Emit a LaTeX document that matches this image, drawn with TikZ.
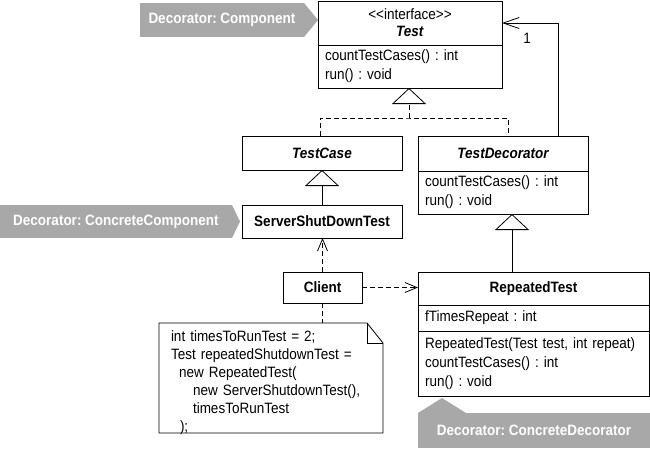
\documentclass[tikz,border=0pt]{standalone}
\usepackage{fontspec}
\setmainfont{Liberation Sans}[FakeStretch=0.9]
\usetikzlibrary{positioning, arrows.meta}
\definecolor{tagfill}{RGB}{168,168,168}

\begin{document}
\frenchspacing
\begin{tikzpicture}[x=1pt, y=1pt, line width=0.8pt,
  every node/.style={font=\fontsize{15}{19}\selectfont, inner sep=0pt, outer sep=0pt},
  box/.style={draw, rectangle, align=center},
  ops/.style={draw, rectangle, align=left, inner xsep=7pt},
  tag/.style={fill=tagfill, text=white, font=\fontsize{15}{16}\selectfont\bfseries},
  realize/.style={dash pattern=on 5pt off 3pt},
  inherit/.style={-{Triangle[open, length=16pt, width=34pt]}},
  depend/.style={dash pattern=on 5pt off 3pt, -{Straight Barb[length=12pt, width=10pt]}},
  assoc/.style={-{Straight Barb[length=16pt, width=11pt]}}]

  \useasboundingbox (0,0) rectangle (650,-450);

  % Interface Test (top)
  \node[box, minimum width=184pt, minimum height=44pt] (test) at (410,-23)
    {<\kern0pt<interface>\kern0pt>\\[-2pt]\textbf{\textit{Test}}};
  \node[ops, text width=170pt, minimum height=43pt, below=0pt of test] (testops)
    {countTestCases() : int\\run() : void};

  % Abstract classes under Test
  \node[box, font=\fontsize{15}{19}\selectfont\bfseries\itshape,
    minimum width=160pt, minimum height=34pt] (testcase) at (322,-153) {TestCase};
  \node[box, font=\fontsize{15}{19}\selectfont\bfseries\itshape,
    minimum width=170pt, minimum height=35pt] (tdec) at (503,-153.5) {TestDecorator};
  \node[ops, text width=156pt, minimum height=43pt, below=0pt of tdec] (tdecops)
    {countTestCases() : int\\run() : void};

  % Concrete classes
  \node[box, font=\fontsize{15}{19}\selectfont\bfseries,
    minimum width=160pt, minimum height=33pt] (sst) at (322,-221.5) {ServerShutDownTest};
  \node[box, font=\fontsize{15}{19}\selectfont\bfseries,
    minimum width=79pt, minimum height=31pt] (client) at (322.5,-287.5) {Client};
  \node[box, font=\fontsize{15}{19}\selectfont\bfseries,
    minimum width=231pt, minimum height=33pt] (rt) at (533.5,-288.5) {RepeatedTest};
  \node[ops, text width=217pt, minimum height=26pt, below=0pt of rt] (rtattr)
    {fTimesRepeat : int};
  \node[ops, text width=217pt, minimum height=65pt, below=0pt of rtattr] (rtops)
    {RepeatedTest(Test test, int repeat)\\countTestCases() : int\\run() : void};

  % Note with the client code
  \node[minimum width=224pt, minimum height=110pt] (note) at (271,-378) {};
  \draw (note.north west) -- ([xshift=-16pt]note.north east)
    -- ([yshift=-20pt]note.north east) -- (note.south east) -- (note.south west) -- cycle;
  \draw ([xshift=-16pt]note.north east) -- ([xshift=-16pt, yshift=-20pt]note.north east)
    -- ([yshift=-20pt]note.north east);
  \node[align=left, text width=200pt, font=\fontsize{15}{18}\selectfont] (code) at (271,-383)
    {int timesToRunTest = 2;\\
     Test repeatedShutdownTest =\\
     \hspace*{8pt}new RepeatedTest(\\
     \hspace*{22pt}new ServerShutdownTest(),\\
     \hspace*{22pt}timesToRunTest\\
     \hspace*{9pt});};

  % Gray role tags
  \node[tag, minimum width=164pt, minimum height=34pt] (comptag) at (222,-20)
    {Decorator: Component};
  \fill[tagfill] (comptag.north east) -- ([xshift=14pt]comptag.east) -- (comptag.south east) -- cycle;
  \node[tag, minimum width=232pt, minimum height=33pt] (cctag) at (116,-221.5)
    {Decorator: ConcreteComponent};
  \fill[tagfill] (cctag.north east) -- ([xshift=8pt]cctag.east) -- (cctag.south east) -- cycle;
  \node[tag, minimum width=232pt, minimum height=35pt] (cdtag) at (534,-430.5)
    {Decorator: ConcreteDecorator};
  \fill[tagfill] (cdtag.north west) -- ([xshift=24pt, yshift=15pt]cdtag.north west)
    -- ([xshift=48pt]cdtag.north west) -- cycle;

  % Realization of Test
  \coordinate (tjoin) at (409,-118);
  \draw[realize] ([xshift=-2pt]testcase.north) |- (tjoin) -| ([xshift=5pt]tdec.north);
  \draw[realize, inherit] (tjoin) -- (testops.south -| tjoin);

  % Generalizations
  \coordinate (rtjoin) at (512,-250);
  \draw[inherit] (sst.north) -- (testcase.south);
  \draw[inherit] (rt.north -| rtjoin) -- (tdecops.south -| rtjoin);

  % Decorator holds one Test
  \draw[assoc] ([xshift=55pt]tdec.north) |- (test.east);
  \node (one) at (527,-38) {1};

  % Client dependencies
  \draw[depend] (client.north) -- (client.north |- sst.south);
  \draw[depend] (client.east) -- (client.east -| rt.west);
  \draw[realize] (client.south) -- (client.south |- note.north);

\end{tikzpicture}
\end{document}
